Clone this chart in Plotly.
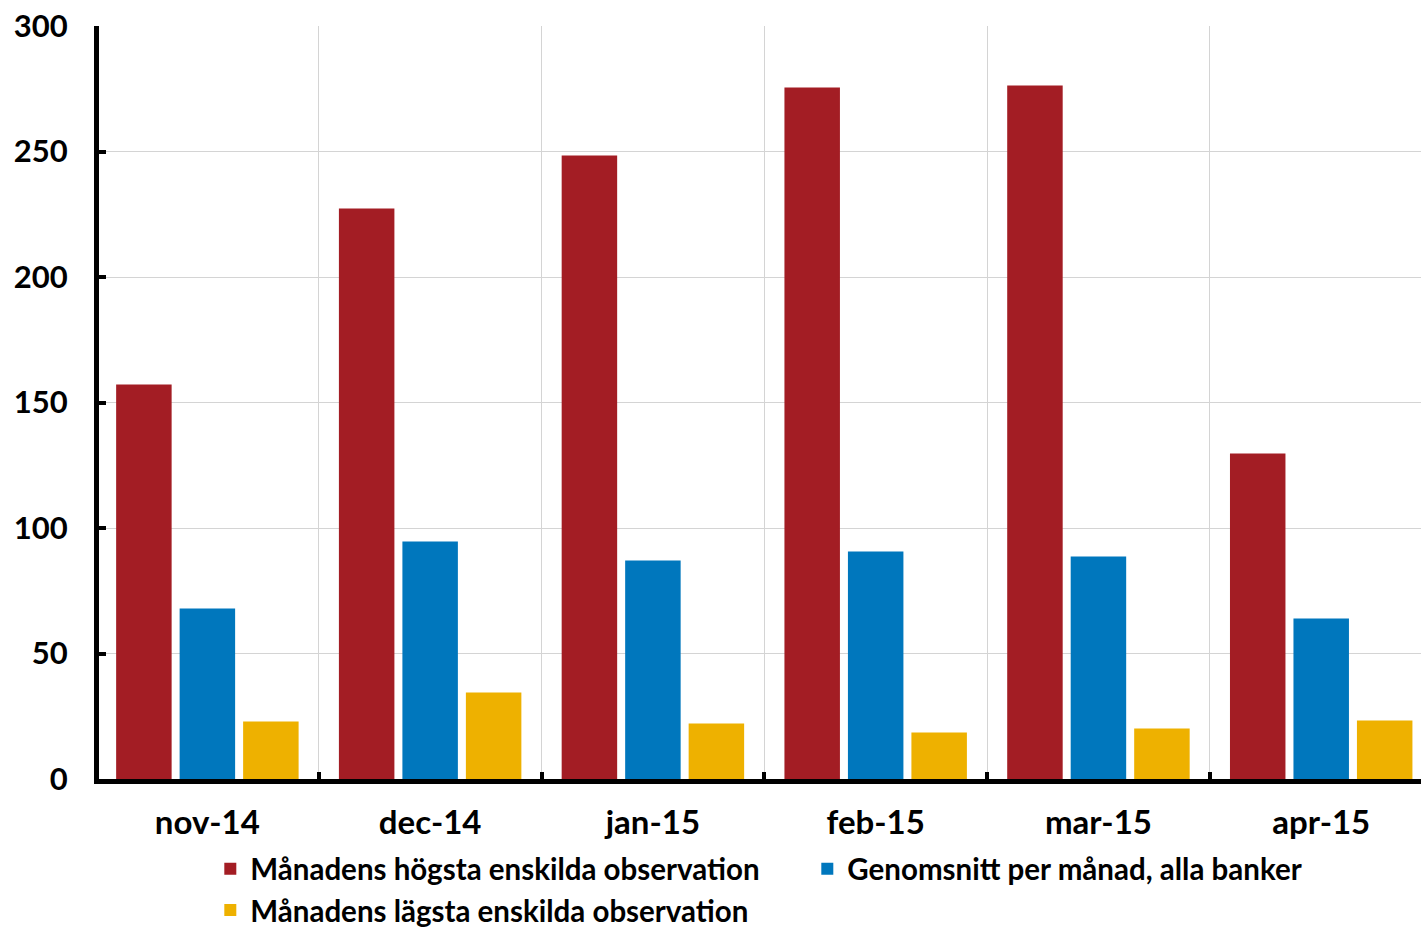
import plotly.graph_objects as go

months = ["nov-14", "dec-14", "jan-15", "feb-15", "mar-15", "apr-15"]
highest = [157.2, 227.3, 248.4, 275.5, 276.3, 129.7]
average = [67.9, 94.6, 87.1, 90.6, 88.6, 63.9]
lowest = [22.9, 34.5, 22.1, 18.5, 20.1, 23.3]

series_names = [
    "Månadens högsta enskilda observation",
    "Genomsnitt per månad, alla banker",
    "Månadens lägsta enskilda observation",
]
series_colors = ["#A31D24", "#0077BD", "#EEB100"]
y_ticks = [0, 50, 100, 150, 200, 250, 300]

FONT = "Lato"

fig = go.Figure()
for name, vals, col in zip(series_names, [highest, average, lowest], series_colors):
    fig.add_trace(go.Bar(x=months, y=vals, name=name, marker_color=col,
                         marker_line_width=0))

fig.update_layout(
    width=1421, height=930,
    margin=dict(l=99, r=0, t=26, b=151, autoexpand=False),
    paper_bgcolor="white", plot_bgcolor="white",
    barmode="group", bargap=0.145, bargroupgap=0.126,
    font=dict(family=FONT, size=28, color="black"),
    showlegend=True,
    legend=dict(
        orientation="h", xref="container", yref="paper",
        x=0.148, xanchor="left", y=-0.2085, yanchor="bottom",
        bgcolor="rgba(0,0,0,0)",
        entrywidth=552, entrywidthmode="pixels", traceorder="normal",
        font=dict(family=FONT, size=29.5, color="black", weight="bold"),
        itemwidth=30, tracegroupgap=0,
    ),
)

fig.update_xaxes(
    type="category", range=[-0.4865, 5.448],
    showline=True, linecolor="black", linewidth=5,
    showgrid=True, gridcolor="#d4d4d4", gridwidth=1,
    tickson="boundaries", ticks="inside", ticklen=7, tickwidth=4, tickcolor="black",
    tickfont=dict(family=FONT, size=33, color="black", weight="bold"),
    ticklabelstandoff=10,
)
fig.update_yaxes(
    range=[0, 300], tickvals=y_ticks,
    showline=True, linecolor="black", linewidth=5,
    showgrid=True, gridcolor="#d4d4d4", gridwidth=1,
    zeroline=False,
    ticks="inside", ticklen=7, tickwidth=4, tickcolor="black",
    tickfont=dict(family=FONT, size=31, color="black", weight="bold"),
    ticklabelstandoff=20,
)

fig.write_html("out.html")
